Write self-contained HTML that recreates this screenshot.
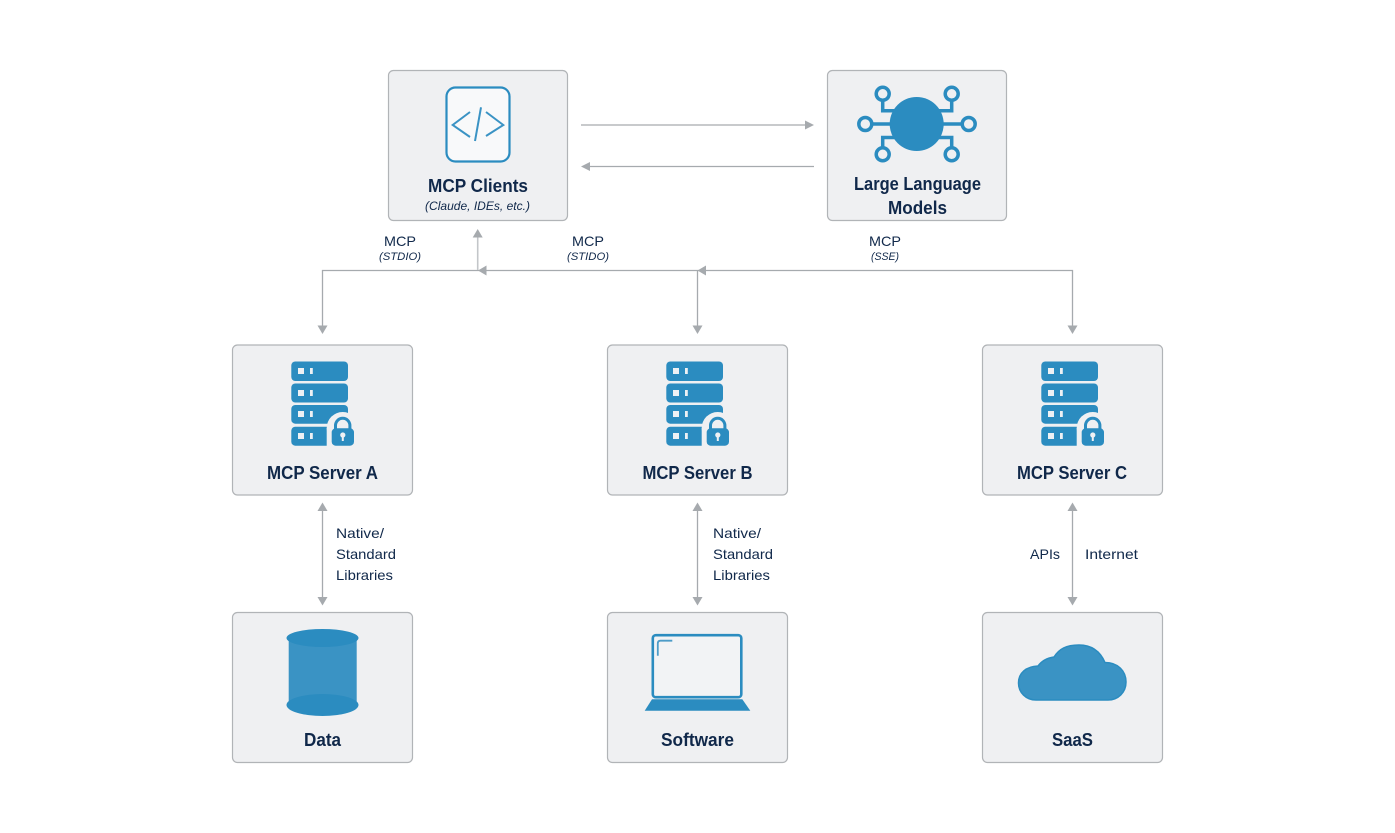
<!DOCTYPE html>
<html lang="en">
<head>
<meta charset="utf-8">
<title>MCP Architecture</title>
<style>
html,body{margin:0;padding:0;background:#fff;width:1395px;height:833px;overflow:hidden}
svg{display:block}
text{font-family:"Liberation Sans",sans-serif;fill:#10284a}
.t{font-size:18px;font-weight:bold;text-anchor:middle}
.s{font-size:14px}
.m{font-size:14px;text-anchor:middle}
.i{font-size:11px;font-style:italic;text-anchor:middle}
.box{fill:#eff0f2;stroke:#b1b4b7;stroke-width:1.2}
.ln{stroke:#a6aaae;stroke-width:1.3;fill:none}
.ah{fill:#a6aaae}
</style>
</head>
<body>
<svg width="1395" height="833" viewBox="0 0 1395 833" xmlns="http://www.w3.org/2000/svg">
<defs>
<g id="srv">
  <g fill="#2b8cc0">
    <rect x="291.3" y="361.5" width="56.7" height="19.5" rx="4"/>
    <rect x="291.3" y="383.5" width="56.7" height="19" rx="4"/>
    <rect x="291.3" y="405" width="56.7" height="18.7" rx="4"/>
    <rect x="291.3" y="426.7" width="56.7" height="19" rx="4"/>
  </g>
  <g fill="#eef1f4">
    <rect x="298" y="368" width="6" height="6"/><rect x="310" y="368" width="2.8" height="6"/>
    <rect x="298" y="390" width="6" height="6"/><rect x="310" y="390" width="2.8" height="6"/>
    <rect x="298" y="411" width="6" height="6"/><rect x="310" y="411" width="2.8" height="6"/>
    <rect x="298" y="433" width="6" height="6"/><rect x="310" y="433" width="2.8" height="6"/>
  </g>
  <circle cx="342.7" cy="428" r="16" fill="#eff0f2"/>
  <rect x="326.7" y="428" width="32" height="20" fill="#eff0f2"/>
  <path d="M335.5 430v-4.500a7.200 7.200 0 0 1 14.400 0v4.500" fill="none" stroke="#2b8cc0" stroke-width="3"/>
  <rect x="331.7" y="428.3" width="22.3" height="17.4" rx="4" fill="#2b8cc0"/>
  <circle cx="342.8" cy="435" r="2.600" fill="#eef1f4"/>
  <rect x="341.8" y="435" width="2" height="6" fill="#eef1f4"/>
</g>
</defs>

<!-- connectors -->
<path class="ln" d="M581 125H807"/>
<path class="ah" d="M814 125l-9-4.500v9z"/>
<path class="ln" d="M814 166.500H588"/>
<path class="ah" d="M581 166.500l9-4.500v9z"/>

<path class="ln" d="M322.500 327V270.500H1072.500V327"/>
<path class="ln" d="M697.500 270.500V327"/>
<path d="M477.700 270V236" stroke="#c3c6c9" stroke-width="1.600" fill="none"/>
<path class="ah" d="M477.700 229l-5 8.500h10z"/>
<path class="ah" d="M478 270.500l8.500-5v10z"/>
<path class="ah" d="M697.500 270.500l8.500-5v10z"/>
<path class="ah" d="M322.500 334l-5-8.500h10z"/>
<path class="ah" d="M697.500 334l-5-8.500h10z"/>
<path class="ah" d="M1072.500 334l-5-8.500h10z"/>

<path class="ln" d="M322.500 510V598"/>
<path class="ah" d="M322.500 502.500l-5 8.500h10z"/><path class="ah" d="M322.500 605.500l-5-8.500h10z"/>
<path class="ln" d="M697.500 510V598"/>
<path class="ah" d="M697.500 502.500l-5 8.500h10z"/><path class="ah" d="M697.500 605.500l-5-8.500h10z"/>
<path class="ln" d="M1072.500 510V598"/>
<path class="ah" d="M1072.500 502.500l-5 8.500h10z"/><path class="ah" d="M1072.500 605.500l-5-8.500h10z"/>

<!-- boxes -->
<rect class="box" x="388.500" y="70.500" width="179" height="150" rx="5"/>
<rect class="box" x="827.500" y="70.500" width="179" height="150" rx="5"/>
<rect class="box" x="232.500" y="345" width="180" height="150" rx="5"/>
<rect class="box" x="607.500" y="345" width="180" height="150" rx="5"/>
<rect class="box" x="982.500" y="345" width="180" height="150" rx="5"/>
<rect class="box" x="232.500" y="612.500" width="180" height="150" rx="5"/>
<rect class="box" x="607.500" y="612.500" width="180" height="150" rx="5"/>
<rect class="box" x="982.500" y="612.500" width="180" height="150" rx="5"/>

<!-- code icon -->
<rect x="446.500" y="87.500" width="63" height="74" rx="9" fill="#f8f9fa" stroke="#2b8cc0" stroke-width="2.200"/>
<g fill="none" stroke="#3a93c4" stroke-width="2">
  <path d="M470 112L452.700 125L470 137"/>
  <path d="M481 107.300L475 141"/>
  <path d="M486 112L503.300 125L486 136"/>
</g>

<!-- LLM icon -->
<g fill="none" stroke="#2b8cc0" stroke-width="3.500">
  <path d="M882.700 100V110.700H900"/>
  <path d="M951.700 100V110.700H934"/>
  <path d="M882.700 148V137.500H900"/>
  <path d="M951.700 148V137.500H934"/>
  <path d="M872 124H892"/>
  <path d="M962 124H942"/>
  <circle cx="882.700" cy="93.800" r="6.500"/>
  <circle cx="951.700" cy="93.800" r="6.500"/>
  <circle cx="865.300" cy="124" r="6.500"/>
  <circle cx="968.700" cy="124" r="6.500"/>
  <circle cx="882.700" cy="154.300" r="6.500"/>
  <circle cx="951.700" cy="154.300" r="6.500"/>
</g>
<circle cx="916.700" cy="124" r="27" fill="#2b8cc0"/>

<!-- server icons -->
<use href="#srv"/>
<use href="#srv" x="375"/>
<use href="#srv" x="750"/>

<!-- database -->
<rect x="288.700" y="638" width="68" height="67" fill="#3a93c4"/>
<ellipse cx="322.500" cy="638" rx="36" ry="9" fill="#2b8cc0"/>
<ellipse cx="322.500" cy="705" rx="36" ry="11" fill="#2b8cc0"/>

<!-- laptop -->
<rect x="652.800" y="635.200" width="88.500" height="62" rx="3" fill="#f2f3f5" stroke="#2b8cc0" stroke-width="2.600"/>
<path d="M657.800 655.700V643.500Q657.800 640.700 660.500 640.700H672.300" fill="none" stroke="#4d9cc8" stroke-width="1.800"/>
<path d="M652 699.300H742.300L750.300 710.800H644.700Z" fill="#2b8cc0"/>

<!-- cloud -->
<path d="M1036 700C1026 700 1018.500 692.500 1018.500 683C1018.500 673 1026 666.500 1038 666C1042 660.500 1047 658 1054 657C1059 649 1066 645 1079 645C1091 645 1100 651 1105 662.500C1118 662.500 1126 671 1126 682C1126 692.500 1118 700 1108 700Z" fill="#3a93c4" stroke="#2b8cc0" stroke-width="1.500"/>

<!-- titles -->
<text class="t" x="478" y="192" textLength="100" lengthAdjust="spacingAndGlyphs">MCP Clients</text>
<text x="477.500" y="210" style="font-size:12px;font-style:italic;text-anchor:middle" textLength="105" lengthAdjust="spacingAndGlyphs">(Claude, IDEs, etc.)</text>
<text class="t" x="917.500" y="190" textLength="127" lengthAdjust="spacingAndGlyphs">Large Language</text>
<text class="t" x="917.500" y="214" textLength="59" lengthAdjust="spacingAndGlyphs">Models</text>
<text class="t" x="322.500" y="479" textLength="111" lengthAdjust="spacingAndGlyphs">MCP Server A</text>
<text class="t" x="697.500" y="479" textLength="110" lengthAdjust="spacingAndGlyphs">MCP Server B</text>
<text class="t" x="1072" y="479" textLength="110" lengthAdjust="spacingAndGlyphs">MCP Server C</text>
<text class="t" x="322.500" y="746" textLength="37" lengthAdjust="spacingAndGlyphs">Data</text>
<text class="t" x="697.500" y="746" textLength="73" lengthAdjust="spacingAndGlyphs">Software</text>
<text class="t" x="1072.500" y="746" textLength="41" lengthAdjust="spacingAndGlyphs">SaaS</text>

<!-- connector labels -->
<text class="m" x="400" y="246" textLength="32" lengthAdjust="spacingAndGlyphs">MCP</text>
<text class="i" x="400" y="260" textLength="42" lengthAdjust="spacingAndGlyphs">(STDIO)</text>
<text class="m" x="588" y="246" textLength="32" lengthAdjust="spacingAndGlyphs">MCP</text>
<text class="i" x="588" y="260" textLength="42" lengthAdjust="spacingAndGlyphs">(STIDO)</text>
<text class="m" x="885" y="246" textLength="32" lengthAdjust="spacingAndGlyphs">MCP</text>
<text class="i" x="885" y="260" textLength="28" lengthAdjust="spacingAndGlyphs">(SSE)</text>

<text class="s" x="336" y="538" textLength="48" lengthAdjust="spacingAndGlyphs">Native/</text>
<text class="s" x="336" y="559" textLength="60" lengthAdjust="spacingAndGlyphs">Standard</text>
<text class="s" x="336" y="580" textLength="57" lengthAdjust="spacingAndGlyphs">Libraries</text>
<text class="s" x="713" y="538" textLength="48" lengthAdjust="spacingAndGlyphs">Native/</text>
<text class="s" x="713" y="559" textLength="60" lengthAdjust="spacingAndGlyphs">Standard</text>
<text class="s" x="713" y="580" textLength="57" lengthAdjust="spacingAndGlyphs">Libraries</text>
<text class="s" x="1030" y="559" textLength="30" lengthAdjust="spacingAndGlyphs">APIs</text>
<text class="s" x="1085" y="559" textLength="53" lengthAdjust="spacingAndGlyphs">Internet</text>
</svg>
</body>
</html>
